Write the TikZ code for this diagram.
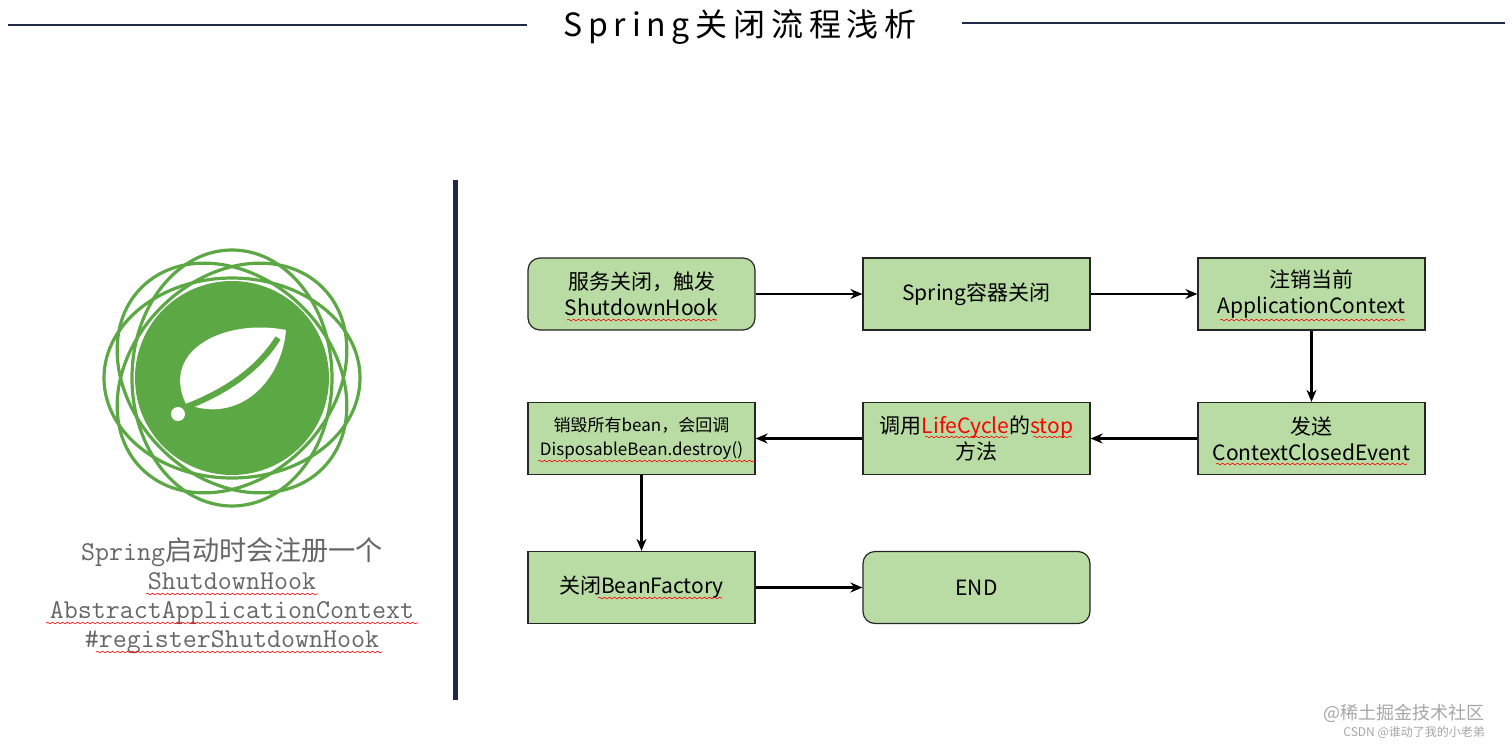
\documentclass[tikz,border=0pt]{standalone}
\usepackage{fontspec}
\setmainfont{Noto Sans CJK SC}
\newfontfamily\cjkmono{Noto Sans CJK SC}
\usetikzlibrary{arrows.meta,decorations.pathmorphing}
\definecolor{navy}{HTML}{1F2A44}
\definecolor{boxg}{HTML}{B8DCA4}
\definecolor{sgreen}{HTML}{5CA844}
\tikzset{
 bx/.style={draw=black!85,line width=0.6pt,fill=boxg,minimum width=113.5pt,minimum height=36pt,align=center,font=\fontsize{10.5}{13}\selectfont,inner sep=1pt},
 rbx/.style={bx,rounded corners=6pt},
 arr/.style={-{Stealth[length=6pt,width=5pt]},line width=1.3pt},
 wavy/.style={red,line width=0.3pt,decorate,decoration={snake,amplitude=0.4pt,segment length=2.5pt}}
}
\begin{document}
\begin{tikzpicture}[x=0.5pt,y=-0.5pt]
\useasboundingbox (0,0) rectangle (1512,745);
% title
\draw[navy,line width=0.6pt] (8,25) -- (527,25);
\draw[navy,line width=0.6pt] (962,23) -- (1505,23);
\node (title) at (740,27) {\fontsize{16}{18}\selectfont\addfontfeature{LetterSpace=18}Spring关闭流程浅析};
% divider
\draw[navy,line width=2.5pt] (455,180) -- (455,700);
% logo
\begin{scope}[sgreen,line width=1.6pt]
 \foreach \a in {0,45,90,135} \draw[rotate around={\a:(232,378)}] (232,378) ellipse (128 and 100);
 \fill (232,378) circle (97);
 \fill[white] (186,404) .. controls (160,350) and (225,318) .. (286,330) .. controls (282,380) and (240,425) .. (186,404) -- cycle;
 \draw[line width=3pt] (186,407) .. controls (225,392) and (258,370) .. (278,338);
 \fill[white] (178,414) circle (7);
\end{scope}
\node[gray!80!black,align=center,font=\ttfamily\fontsize{13.6}{14.5}\selectfont] (cap) at (232,596)
 {Spring{\cjkmono 启动时会注册一个}\\ShutdownHook\\AbstractApplicationContext\\\#registerShutdownHook};
\draw[wavy] (146,594) -- (318,594);
\draw[wavy] (46,623) -- (418,623);
\draw[wavy] (96,652) -- (382,652);
% boxes
\node[rbx] (b1) at (641.5,294) {服务关闭，触发\\ShutdownHook};
\node[bx] (b2) at (976.5,294) {Spring容器关闭};
\node[bx] (b3) at (1311.5,294) {注销当前\\ApplicationContext};
\node[bx] (b6) at (1311.5,438.5) {发送\\ContextClosedEvent};
\node[bx] (b5) at (976.5,438.5) {调用{\color{red}LifeCycle}的{\color{red}stop}\\方法};
\node[bx,font=\fontsize{8.5}{12}\selectfont] (b4) at (641.5,438.5) {销毁所有bean，会回调\\DisposableBean.destroy()};
\node[bx] (b7) at (641.5,587.5) {关闭BeanFactory};
\node[rbx] (b8) at (976.5,587.5) {END};
\draw[wavy] (567,320) -- (717,320);
\draw[wavy] (1220,320) -- (1405,320);
\draw[wavy] (1216,464) -- (1407,464);
\draw[wavy] (925,437) -- (1008,437);
\draw[wavy] (1033,437) -- (1072,437);
\draw[wavy] (538,461) -- (755,461);
\draw[wavy] (598,598) -- (722,598);
% arrows
\draw[arr] (b1) -- (b2);
\draw[arr] (b2) -- (b3);
\draw[arr] (b3) -- (b6);
\draw[arr] (b6) -- (b5);
\draw[arr] (b5) -- (b4);
\draw[arr] (b4) -- (b7);
\draw[arr] (b7) -- (b8);
% watermark
\node[gray!70,anchor=east,font=\fontsize{9}{10}\selectfont] (wm1) at (1492,713) {@稀土掘金技术社区};
\node[gray!70,anchor=east,font=\fontsize{6}{7}\selectfont] (wm2) at (1492,732) {CSDN @谁动了我的小老弟};
\end{tikzpicture}
\end{document}
